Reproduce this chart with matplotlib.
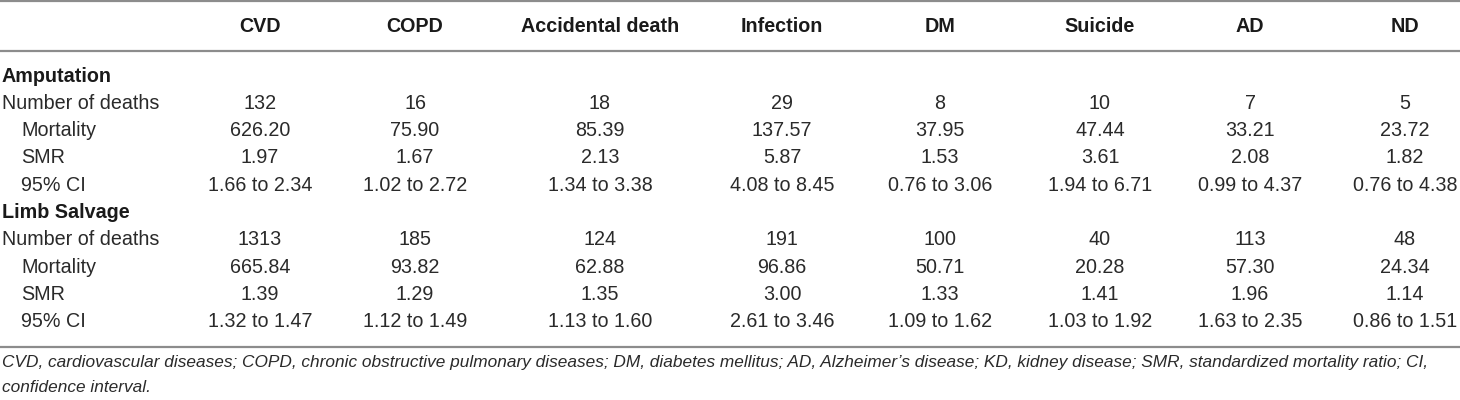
import matplotlib
matplotlib.use("Agg")
import matplotlib.pyplot as plt

# table content
causes = ["CVD", "COPD", "Accidental death", "Infection", "DM", "Suicide", "AD", "ND"]
row_labels = ["Number of deaths", "Mortality", "SMR", "95% CI"]

amp_deaths = ["132", "16", "18", "29", "8", "10", "7", "5"]
amp_mortality = ["626.20", "75.90", "85.39", "137.57", "37.95", "47.44", "33.21", "23.72"]
amp_smr = ["1.97", "1.67", "2.13", "5.87", "1.53", "3.61", "2.08", "1.82"]
amp_ci = ["1.66 to 2.34", "1.02 to 2.72", "1.34 to 3.38", "4.08 to 8.45",
          "0.76 to 3.06", "1.94 to 6.71", "0.99 to 4.37", "0.76 to 4.38"]

ls_deaths = ["1313", "185", "124", "191", "100", "40", "113", "48"]
ls_mortality = ["665.84", "93.82", "62.88", "96.86", "50.71", "20.28", "57.30", "24.34"]
ls_smr = ["1.39", "1.29", "1.35", "3.00", "1.33", "1.41", "1.96", "1.14"]
ls_ci = ["1.32 to 1.47", "1.12 to 1.49", "1.13 to 1.60", "2.61 to 3.46",
         "1.09 to 1.62", "1.03 to 1.92", "1.63 to 2.35", "0.86 to 1.51"]

groups = [("Amputation", [amp_deaths, amp_mortality, amp_smr, amp_ci]),
          ("Limb Salvage", [ls_deaths, ls_mortality, ls_smr, ls_ci])]

footnote = ["CVD, cardiovascular diseases; COPD, chronic obstructive pulmonary diseases; "
            "DM, diabetes mellitus; AD, Alzheimer\u2019s disease; KD, kidney disease; "
            "SMR, standardized mortality ratio; CI,",
            "confidence interval."]

#   layout (pixel units)
#===============================================
col_x = [260, 415, 600, 782, 940, 1100, 1250, 1405]
row_step = 27.3
first_row = 76
txt_col = "#2a2a2a"
rule_col = "#8c8c8c"
fs = 14.2
plt.rcParams["font.family"] = ["Liberation Sans", "DejaVu Sans"]

fig = plt.figure(figsize=(14.6, 4), dpi=100)
ax = fig.add_axes([0, 0, 1, 1])
ax.set_xlim(0, 1460)
ax.set_ylim(400, 0)
ax.axis("off")

# rules
for yy in [1, 51, 347]:
    ax.plot([0, 1460], [yy, yy], color=rule_col, lw=1.6, solid_capstyle="butt")

# header
for x, c in zip(col_x, causes):
    ax.text(x, 27, c, ha="center", va="center", fontsize=fs, fontweight="bold", color="#1a1a1a")

# body
y = first_row
for name, rows in groups:
    ax.text(2, y, name, ha="left", va="center", fontsize=fs, fontweight="bold", color="#1a1a1a")
    y += row_step
    for i, (lab, vals) in enumerate(zip(row_labels, rows)):
        indent = 2 if i == 0 else 21
        ax.text(indent, y, lab, ha="left", va="center", fontsize=fs, color=txt_col)
        for x, v in zip(col_x, vals):
            ax.text(x, y, v, ha="center", va="center", fontsize=fs, color=txt_col)
        y += row_step

# footnote
ax.text(2, 362, footnote[0], ha="left", va="center", fontsize=12.4, style="italic", color=txt_col)
ax.text(2, 387, footnote[1], ha="left", va="center", fontsize=12.4, style="italic", color=txt_col)

fig.savefig("out.png", dpi=100, facecolor="white")
